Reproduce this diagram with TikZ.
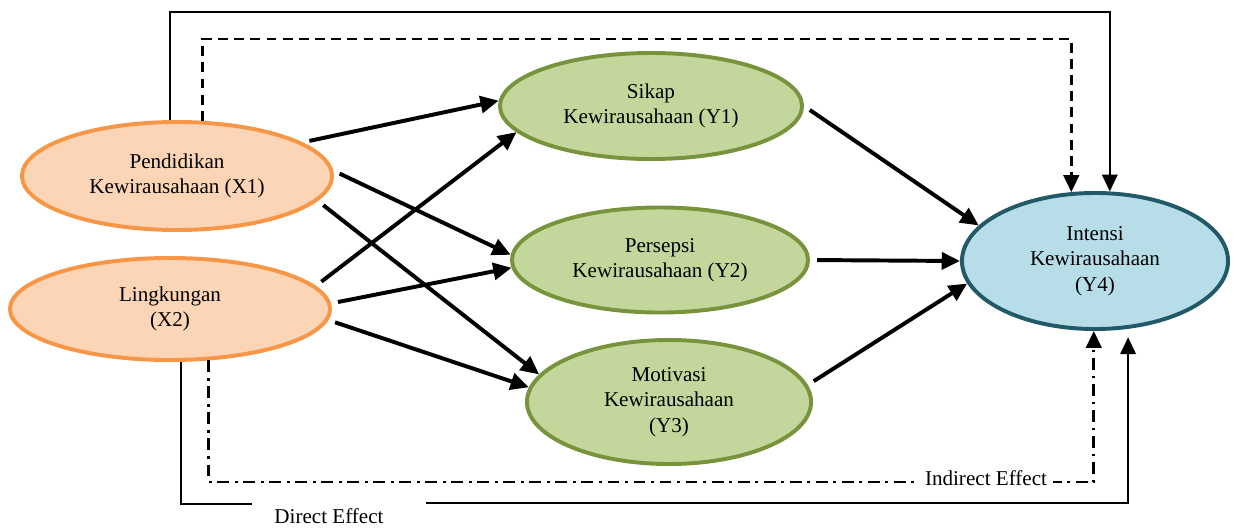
\documentclass[tikz,border=0pt]{standalone}
\usepackage{fontspec}
\setmainfont{Liberation Serif}
\usetikzlibrary{arrows.meta,shapes.geometric}
\definecolor{xfill}{HTML}{FBD5B5}
\definecolor{xline}{HTML}{F79646}
\definecolor{yfill}{HTML}{C3D69B}
\definecolor{yline}{HTML}{77933C}
\definecolor{zfill}{HTML}{B7DEE8}
\definecolor{zline}{HTML}{215968}
\begin{document}
\begin{tikzpicture}[x=0.025cm,y=-0.025cm,
    font=\fontsize{15}{18}\selectfont,
    var/.style={ellipse,line width=2.8pt,align=center,inner sep=0pt},
    xvar/.style={var,draw=xline,fill=xfill},
    yvar/.style={var,draw=yline,fill=yfill},
    zvar/.style={var,draw=zline,fill=zfill},
    arr/.style={line width=2.8pt,-{Triangle[length=13pt,width=12pt]},shorten <=5pt},
    link/.style={line width=1.6pt,-{Triangle[length=12pt,width=11pt]}},
    dashlink/.style={link,line width=2pt,dash pattern=on 7pt off 4.5pt},
    dotlink/.style={link,line width=2pt,dash pattern=on 8.5pt off 4pt on 2pt off 4pt}]
    \useasboundingbox (0,0) rectangle (1235,527);
    \node[xvar,minimum width=7.75cm,minimum height=2.7cm] (X1) at (177,176) {Pendidikan\\Kewirausahaan (X1)};
    \node[xvar,minimum width=8cm,minimum height=2.55cm] (X2) at (170,309) {Lingkungan\\(X2)};
    \node[yvar,minimum width=7.55cm,minimum height=2.65cm] (Y1) at (651,106) {Sikap\\Kewirausahaan (Y1)};
    \node[yvar,minimum width=7.4cm,minimum height=2.625cm] (Y2) at (660,260) {Persepsi\\Kewirausahaan (Y2)};
    \node[yvar,minimum width=7.1cm,minimum height=3.1cm] (Y3) at (669,402) {Motivasi\\Kewirausahaan\\(Y3)};
    \node[zvar,minimum width=6.65cm,minimum height=3.4cm] (Y4) at (1095,261) {Intensi\\Kewirausahaan\\(Y4)};
    \draw[arr] (X1.15) -- (Y1.178);
    \draw[arr] (X1.2) -- (Y2.178);
    \draw[arr] (X1.-10) -- (Y3.168);
    \draw[arr] (X2.9) -- (Y1.-169);
    \draw[arr] (X2.2) -- (Y2.-177);
    \draw[arr] (X2.-4) -- (Y3.174);
    \draw[arr] (Y1.0) -- (Y4.163);
    \draw[arr] (Y2.0) -- (Y4.180);
    \draw[arr] (Y3.7) -- (Y4.-170);
    \draw[link] (X1.97) -- (X1.97 |- 0,12) -- (Y4.78 |- 0,12) -- (Y4.78);
    \draw[dashlink] (X1.65) -- (X1.65 |- 0,39) -- (Y4.109 |- 0,39) -- (Y4.109);
    \draw[dotlink] (X2.-53) -- (X2.-53 |- 0,482) -- (Y4.-91 |- 0,482) -- (Y4.-91);
    \node[fill=white,inner sep=4pt] (ind) at (986,478) {Indirect Effect};
    \coordinate (dl) at (252,504);
    \coordinate (dr) at (426,503);
    \draw[line width=1.6pt] (X2.-78) -- (X2.-78 |- dl) -- (dl);
    \draw[link,shorten >=6pt] (dr) -- (Y4.-64 |- dr) -- (Y4.-64);
    \node (dir) at (329,516) {Direct Effect};
\end{tikzpicture}
\end{document}
